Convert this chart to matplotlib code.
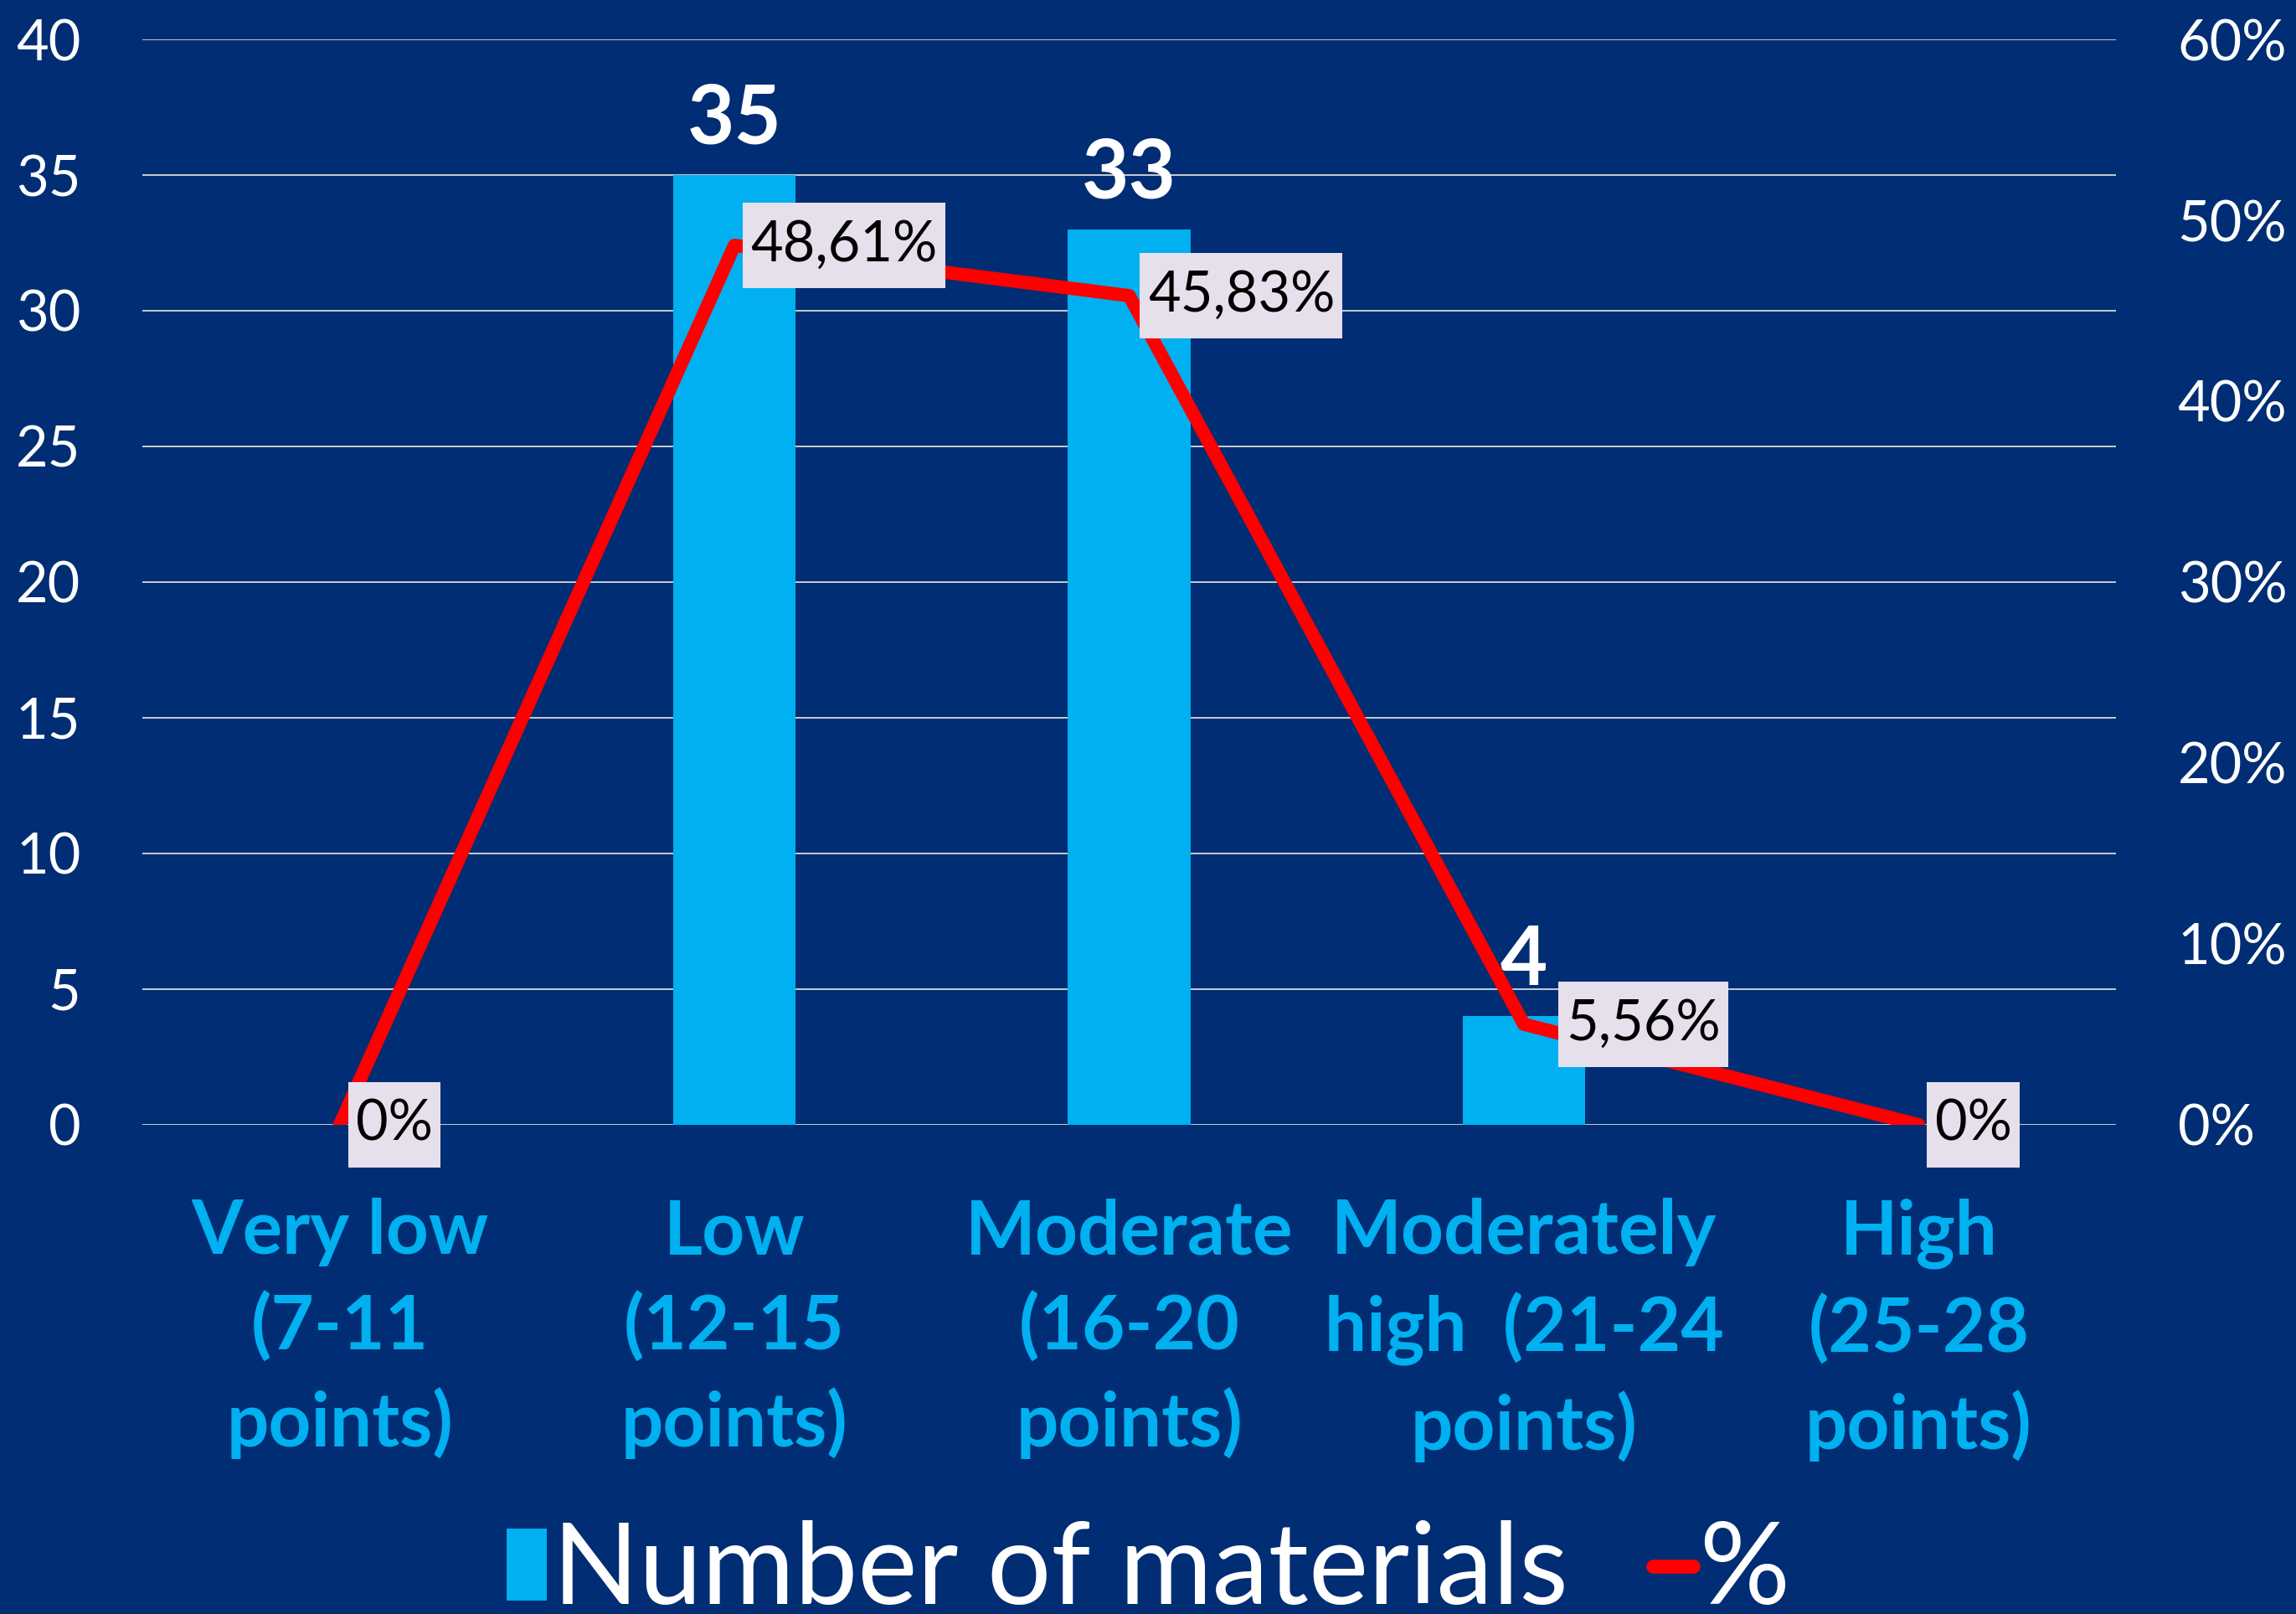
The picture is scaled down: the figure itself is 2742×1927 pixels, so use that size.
import matplotlib
matplotlib.use("Agg")
import matplotlib.pyplot as plt
from matplotlib.patches import Patch
from matplotlib.lines import Line2D
from matplotlib.path import Path

plt.rcParams['font.family'] = ['Lato', 'DejaVu Sans']

categories = ["Very low\n(7-11\npoints)", "Low\n(12-15\npoints)", "Moderate\n(16-20\npoints)",
              "Moderately\nhigh  (21-24\npoints)", "High\n(25-28\npoints)"]
materials = [0, 35, 33, 4, 0]
percent = [0.0, 48.61, 45.83, 5.56, 0.0]
percent_labels = ["0%", "48,61%", "45,83%", "5,56%", "0%"]
left_ticks = [0, 5, 10, 15, 20, 25, 30, 35, 40]
right_ticks = [0, 10, 20, 30, 40, 50, 60]

BG = "#002D73"
BAR = "#00B0F0"
GRID = "#D9D9D9"


def label_box(x0, y0, width, height, mutation_size):
    """Plain rectangle with more room above and below the text than at the sides."""
    px = 0.14 * mutation_size
    py = 0.30 * mutation_size
    x0, y0 = x0 - px, y0 - py
    x1, y1 = x0 + width + 2 * px, y0 + height + 2 * py
    return Path([(x0, y0), (x1, y0), (x1, y1), (x0, y1), (x0, y0)],
                [Path.MOVETO, Path.LINETO, Path.LINETO, Path.LINETO, Path.CLOSEPOLY])


fig = plt.figure(figsize=(27.42, 19.27), dpi=100, facecolor=BG)
ax = fig.add_axes([0.062, 0.3031, 0.8596, 0.6725])
ax.set_facecolor(BG)
x = list(range(len(categories)))

ax.bar(x, materials, width=0.31, color=BAR, zorder=2)
ax.set_xlim(-0.5, len(categories) - 0.5)
ax.set_ylim(0, 40)
ax.set_yticks(left_ticks)
ax.yaxis.grid(True, color=GRID, linewidth=1.3, zorder=0)
ax.set_axisbelow(True)
for s in ax.spines.values():
    s.set_visible(False)
ax.tick_params(axis='y', length=0, pad=53, labelsize=48, labelcolor='white')
ax.set_xticks(x)
ax.set_xticklabels(categories, fontsize=64, fontweight='bold', color=BAR, linespacing=1.42)
ax.tick_params(axis='x', length=0, pad=63)

for xi, v in zip(x, materials):
    if v > 0:
        ax.annotate(str(v), (xi, v), xytext=(0, 27), textcoords='offset points',
                    ha='center', va='baseline', fontsize=70, fontweight='bold',
                    color='white', zorder=5)

ax2 = ax.twinx()
ax2.set_ylim(0, 60)
ax2.set_yticks(right_ticks)
ax2.set_yticklabels([f"{t}%" for t in right_ticks])
for s in ax2.spines.values():
    s.set_visible(False)
ax2.tick_params(axis='y', length=0, pad=53, labelsize=48, labelcolor='white')
ax2.plot(x, percent, color='#FF0000', linewidth=11.5, solid_joinstyle='round',
         solid_capstyle='round', zorder=3)

# horizontal gap (points) between each point and its label box
label_gap = [14, 14, 16, 36, 14]
for xi, p, lab, gap in zip(x, percent, percent_labels, label_gap):
    ax2.annotate(lab, (xi, p), xytext=(gap, 0), textcoords='offset points',
                 ha='left', va='center', fontsize=48, color='black', zorder=6,
                 bbox=dict(boxstyle=label_box, facecolor='#E6E0EC', edgecolor='none'))

handles = [Patch(facecolor=BAR, edgecolor='none'),
           Line2D([0], [0], color='#FF0000', linewidth=12, solid_capstyle='round')]
leg = fig.legend(handles, ["Number of materials", "%"], loc='center',
                 bbox_to_anchor=(0.5, 0.026), ncol=2, frameon=False,
                 fontsize=97, labelcolor='white', handlelength=0.36, handleheight=0.6,
                 handletextpad=0.05, columnspacing=0.75)

fig.savefig("out.png", dpi=100, facecolor=BG)
